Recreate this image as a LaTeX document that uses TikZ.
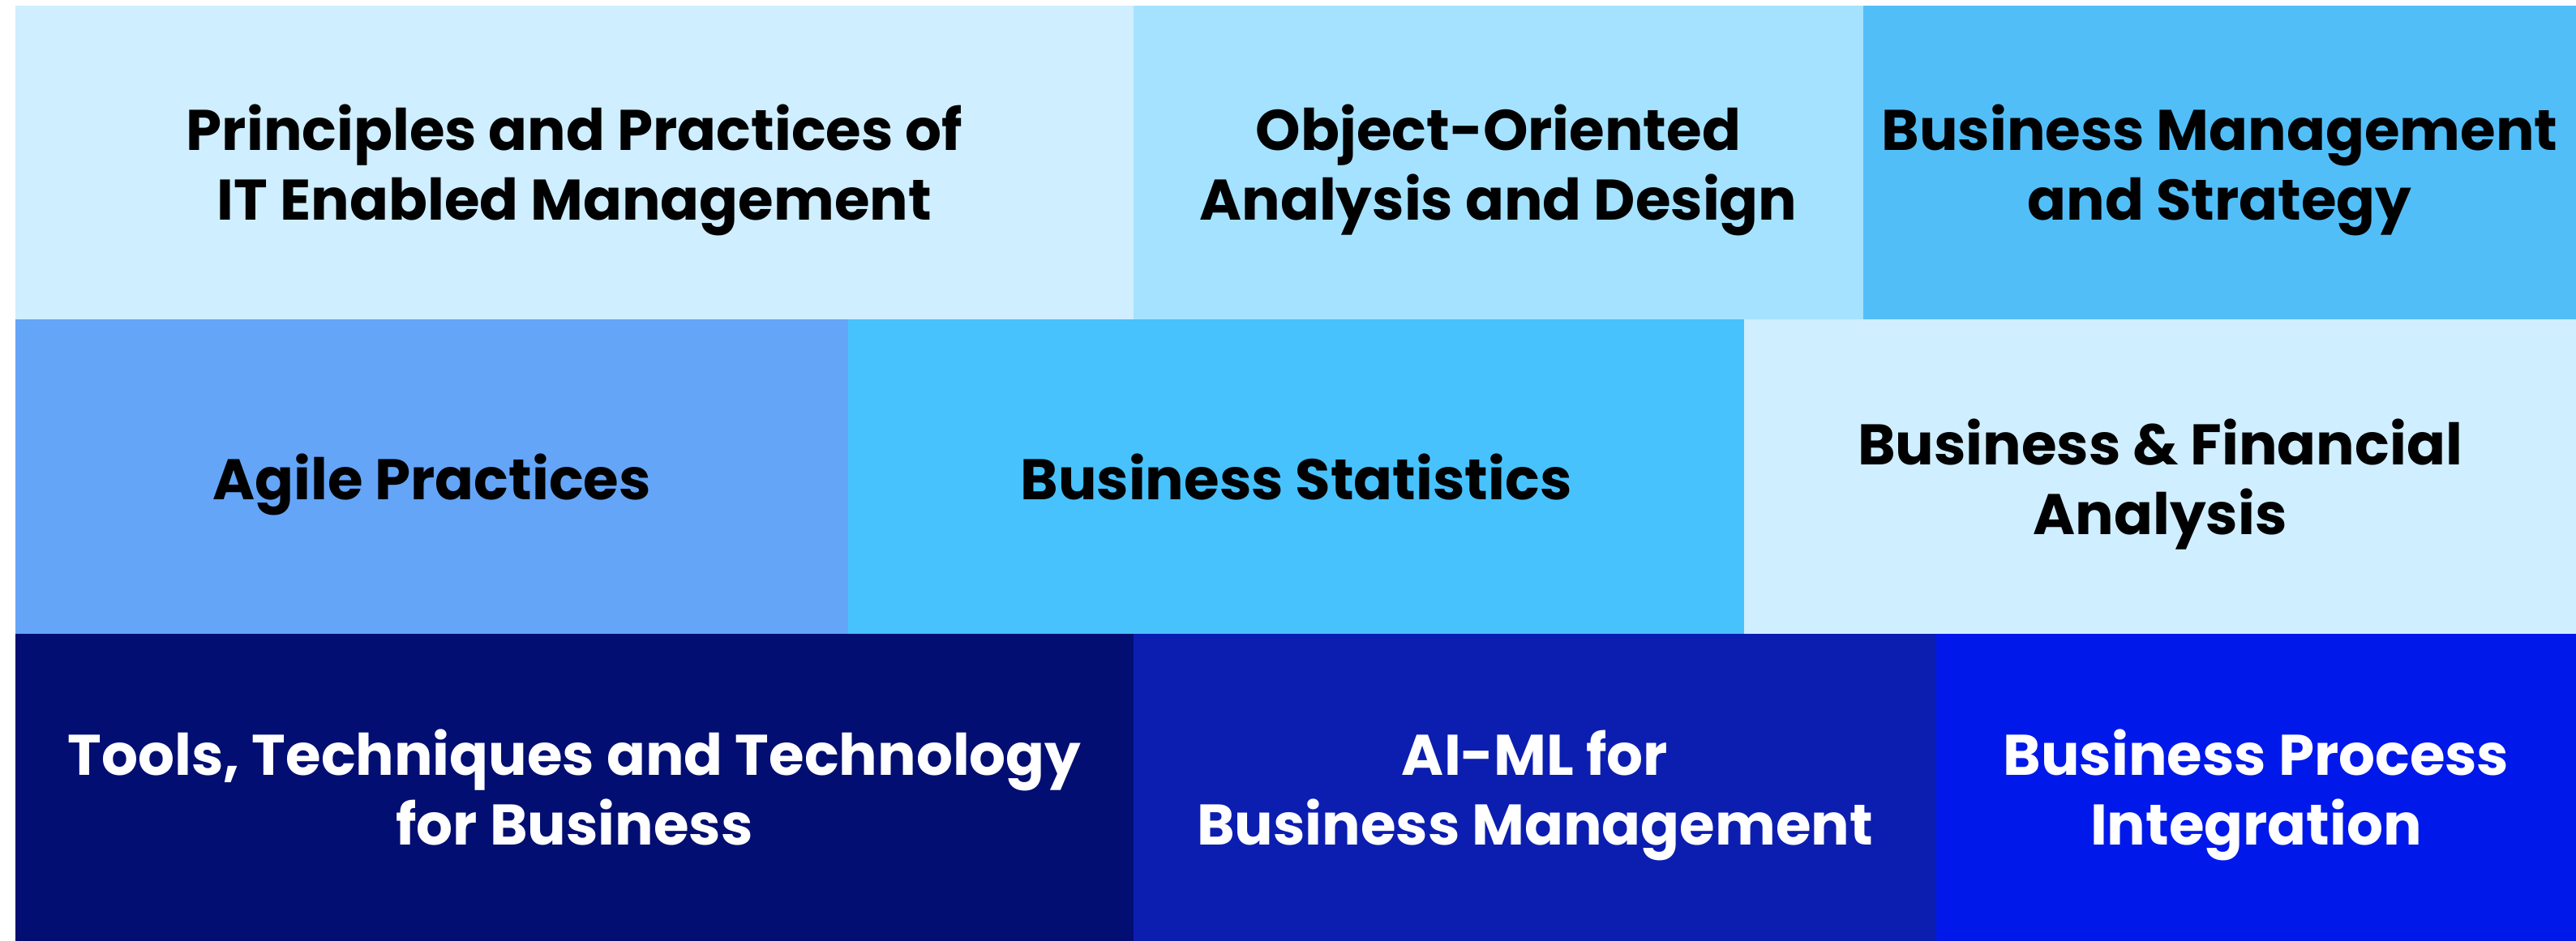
\documentclass[tikz,border=0pt]{standalone}
\usepackage{fontspec}
\newfontfamily\tilefont{Poppins}
\usepackage{tikz}
\usetikzlibrary{positioning}
\definecolor{paleblue}{HTML}{CFEEFF}
\definecolor{lightsky}{HTML}{A5E2FF}
\definecolor{midsky}{HTML}{52BEF8}
\definecolor{cornflower}{HTML}{64A5F8}
\definecolor{brightsky}{HTML}{48C2FD}
\definecolor{deepnavy}{HTML}{020E72}
\definecolor{royal}{HTML}{0C1EB0}
\definecolor{electric}{HTML}{0019EA}
\tikzstyle{tile} = [rectangle, inner sep=0pt, outer sep=0pt, draw=none, text centered, align=center, text depth=0pt, font=\tilefont\bfseries\fontsize{20.1}{24.5}\selectfont]
\tikzstyle{toprow} = [tile, minimum height=3.87cm, text=black]
\tikzstyle{midrow} = [tile, minimum height=3.88cm, text=black]
\tikzstyle{lowrow} = [tile, minimum height=3.79cm, text=white]

\begin{document}
\begin{tikzpicture}
	\useasboundingbox (0,0) rectangle (31.77,11.61);
	\fill[white] (0,0) rectangle (31.77,11.61);

	\node (itmgmt) [toprow, fill=paleblue, minimum width=13.79cm, anchor=north west] at (0.19,11.54) {Principles and Practices of \\ IT Enabled Management};
	\node (ooad) [toprow, fill=lightsky, minimum width=9cm, right=0cm of itmgmt] {Object-Oriented \\ Analysis and Design};
	\node (strategy) [toprow, fill=midsky, minimum width=8.79cm, right=0cm of ooad] {Business Management \\ and Strategy};

	\node (agile) [midrow, fill=cornflower, minimum width=10.27cm, below=0cm of itmgmt.south west, anchor=north west] {Agile Practices};
	\node (stats) [midrow, fill=brightsky, minimum width=11.05cm, right=0cm of agile] {Business Statistics};
	\node (finance) [midrow, fill=paleblue, minimum width=10.26cm, right=0cm of stats] {Business \& Financial \\ Analysis};

	\node (tools) [lowrow, fill=deepnavy, minimum width=13.79cm, below=0cm of agile.south west, anchor=north west] {Tools, Techniques and Technology \\ for Business};
	\node (aiml) [lowrow, fill=royal, minimum width=9.9cm, right=0cm of tools] {AI-ML for \\ Business Management};
	\node (process) [lowrow, fill=electric, minimum width=7.89cm, right=0cm of aiml] {Business Process \\ Integration};
\end{tikzpicture}
\end{document}
